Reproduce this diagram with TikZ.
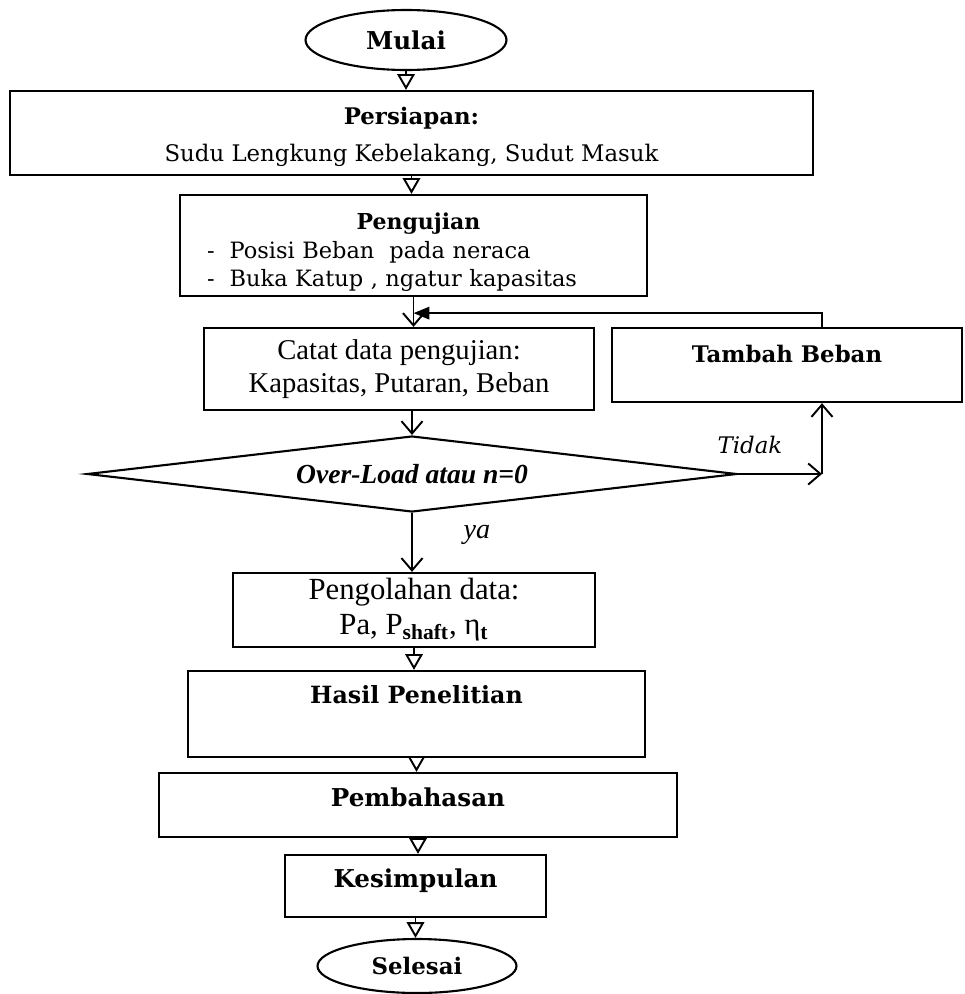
\documentclass[tikz,border=0pt]{standalone}
\usepackage{fontspec}
\setmainfont{Liberation Serif}
\newfontfamily\bookfont{DejaVu Serif}
\usetikzlibrary{arrows.meta,shapes.geometric,calc}

\tikzset{
  box/.style={draw, line width=1.3pt, inner sep=0pt, align=center},
  term/.style={draw, ellipse, line width=1.2pt, inner sep=0pt},
  flow/.style={line width=1.1pt, -{Triangle[open,length=9pt,width=10pt]}},
  flowv/.style={line width=1.1pt, -{Straight Barb[length=7pt,width=12pt]}},
  fb/.style={line width=1.3pt, -{Triangle[length=9pt,width=7pt]}},
  bk/.style={font=\fontsize{14}{17}\selectfont\bookfont\bfseries},
  tm/.style={font=\fontsize{16.3}{19}\selectfont},
}

\begin{document}
\begin{tikzpicture}[x=0.02cm,y=-0.02cm]
  \useasboundingbox (0,0) rectangle (964,994);
  \node[term, bk, minimum width=4.02cm, minimum height=1.2cm] (mulai) at (406,40) {Mulai};
  \node[box, font=\fontsize{13}{16}\selectfont\bookfont, minimum width=16.06cm, minimum height=1.68cm] (siap) at (411.5,133)
    {\rule{0pt}{0.5cm}\bfseries Persiapan:\\[5pt] Sudu Lengkung Kebelakang, Sudut Masuk};
  \node[box, font=\fontsize{12.8}{16.5}\selectfont\bookfont, align=left, inner xsep=0.54cm, text width=8.26cm, minimum height=2.02cm] (uji) at (413.5,245.5)
    {\makebox[\linewidth]{\rule{0pt}{0.6cm}\bfseries\fontsize{12.5}{16}\selectfont\hspace{0.2cm}Pengujian}\\ -\ \ Posisi Beban\ \ pada neraca\\ -\ \ Buka Katup , ngatur kapasitas};
  \node[box, tm, minimum width=7.8cm, minimum height=1.64cm] (catat) at (399,369) {Catat data pengujian:\\Kapasitas, Putaran, Beban};
  \node[box, font=\fontsize{13}{16}\selectfont\bookfont\bfseries, text depth=0.45cm, minimum width=7cm, minimum height=1.48cm] (tambah) at (787,365) {Tambah Beban};
  \node[draw, diamond, aspect=8.5, line width=1.2pt, inner sep=0pt, minimum width=13cm, minimum height=1.52cm,
    font=\fontsize{15.7}{18}\selectfont\bfseries\itshape] (dec) at (412,474) {Over-Load atau n=0};
  \node[box, font=\fontsize{17.5}{20}\selectfont, minimum width=7.24cm, minimum height=1.48cm] (olah) at (414,610)
    {Pengolahan data:\\Pa, P\textsubscript{\bfseries shaft}, η\textsubscript{\bfseries t}};
  \node[box, font=\fontsize{13.5}{16}\selectfont\bookfont\bfseries, text depth=0.8cm, minimum width=9.14cm, minimum height=1.72cm] (hasil) at (416.5,714) {Hasil Penelitian};
  \node[box, bk, text depth=0.3cm, minimum width=10.36cm, minimum height=1.28cm] (bahas) at (418,805) {Pembahasan};
  \node[box, bk, text depth=0.3cm, minimum width=5.22cm, minimum height=1.24cm] (simpul) at (415.5,886) {Kesimpulan};
  \node[term, font=\fontsize{13}{16}\selectfont\bookfont\bfseries, minimum width=3.98cm, minimum height=1.08cm] (selesai) at (417,966) {Selesai};

  \draw[flow] (mulai.south) -- (mulai.south |- siap.north);
  \draw[flow] (siap.south) -- (siap.south |- uji.north);
  \draw[flowv] (uji.south) -- (uji.south |- catat.north);
  \draw[fb] ([xshift=0.7cm]tambah.north) |- ([yshift=-0.32cm]uji.south);
  \draw[flowv] (dec.north |- catat.south) -- (dec.north);
  \coordinate (turn) at ([xshift=0.7cm]tambah.south |- dec.east);
  \draw[flowv] (dec.east) -- (turn);
  \draw[flowv] (turn) -- ([xshift=0.7cm]tambah.south);
  \node[font=\fontsize{13}{16}\selectfont\bookfont\itshape] (tidak) at (750,445) {Tidak};
  \draw[flowv] (dec.south) -- (dec.south |- olah.north);
  \node[font=\fontsize{16}{19}\selectfont\itshape] (ya) at (477,535) {ya};
  \draw[flow] (olah.south) -- (olah.south |- hasil.north);
  \draw[flow] (hasil.south) -- (hasil.south |- bahas.north);
  \draw[flow] (bahas.south) -- (bahas.south |- simpul.north);
  \draw[flow] (simpul.south) -- (simpul.south |- selesai.north);
\end{tikzpicture}
\end{document}
